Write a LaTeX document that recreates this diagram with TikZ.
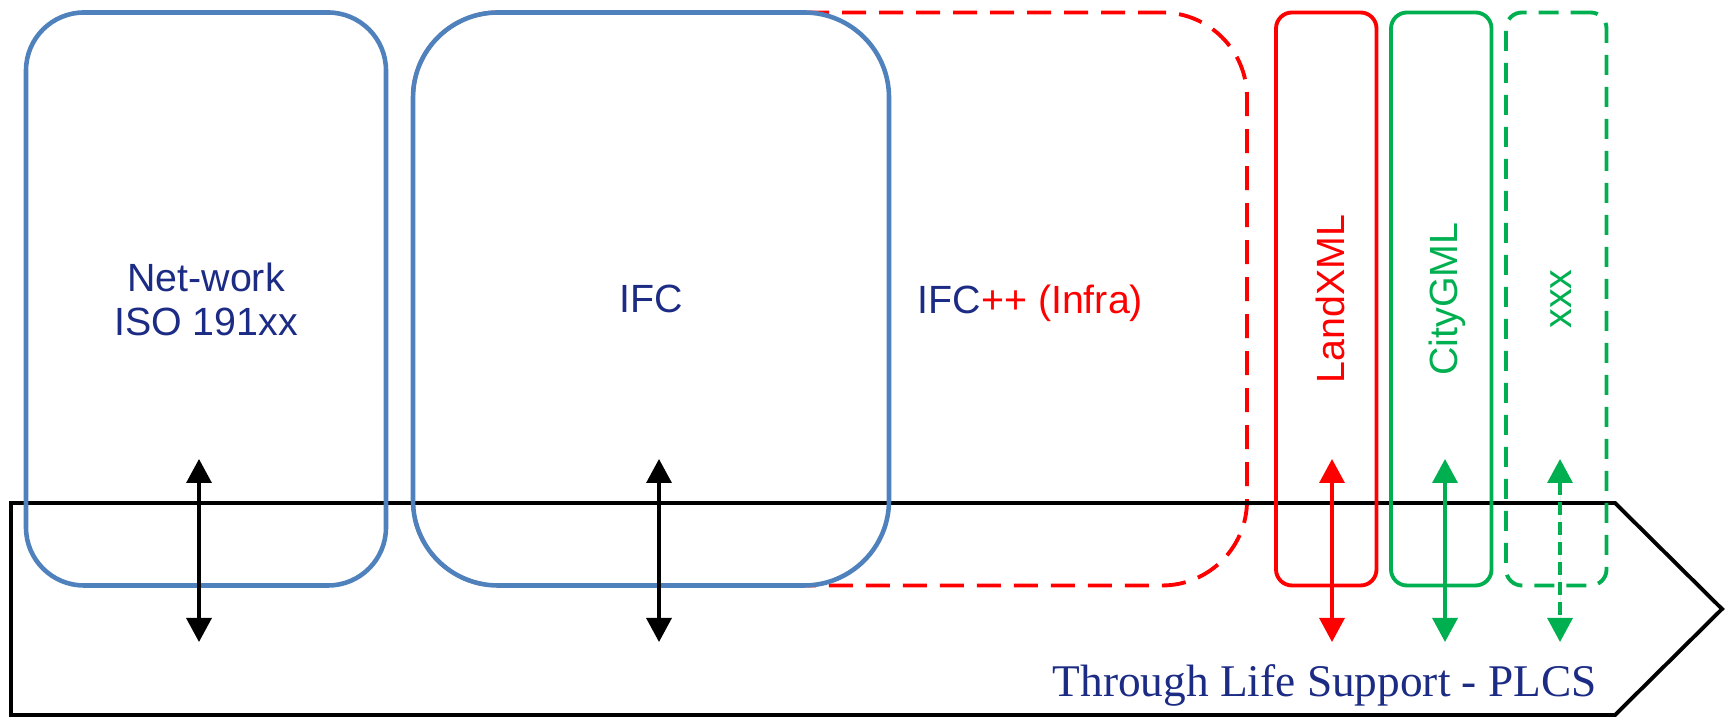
\documentclass[tikz,border=0pt]{standalone}
\usepackage{fontspec}
\setmainfont{Liberation Sans}
\newfontfamily\plcsfont{Liberation Serif}
\usepackage{tikz}
\usetikzlibrary{arrows.meta,positioning,backgrounds}
\definecolor{ink}{HTML}{1C2B84}
\definecolor{frame}{HTML}{4F81BD}
\definecolor{infra}{HTML}{FF0000}
\definecolor{city}{HTML}{00B050}
\tikzset{
  box/.style={rectangle, draw, line width=1.1pt, outer sep=0pt, inner sep=0pt,
              minimum height=57.3mm, align=center, text=ink,
              font=\fontsize{11.2}{12.5}\selectfont},
  stdbox/.style={box, draw=frame, line width=1.3pt},
  infrabox/.style={box, draw=infra, dash pattern=on 2.4mm off 1.3mm, rounded corners=8.5mm},
  thinbox/.style={box, minimum width=10.05mm, rounded corners=1.6mm},
  lbl/.style={inner sep=0pt, text depth=0pt, text=ink, font=\fontsize{11.2}{12.5}\selectfont},
  vlbl/.style={lbl, rotate=90},
  link/.style={{Triangle[length=2.4mm,width=2.5mm]}-{Triangle[length=2.4mm,width=2.5mm]}, line width=0.95pt},
  timeline/.style={draw=black, line width=1.1pt, line join=miter}
}

\begin{document}
\begin{tikzpicture}
  \useasboundingbox (0,0) rectangle (172.7mm,71.7mm);
  % through life support arrow
  \draw[timeline] (1.1mm,21.4mm) -- (161.5mm,21.4mm) -- (172.2mm,10.8mm)
    -- (161.5mm,0.2mm) -- (1.1mm,0.2mm) -- cycle;
  \node[anchor=base west, inner sep=0pt, text=ink, font=\plcsfont\fontsize{12.9}{15}\selectfont]
    (plcs) at (105.2mm,2.0mm) {Through Life Support - PLCS};

  % standards
  \node[stdbox, minimum width=36mm, rounded corners=5.8mm] (net) at (20.6mm,41.8mm) {Net-work\\ISO 191xx};
  \node[stdbox, minimum width=47.6mm, rounded corners=8.5mm, right=2.7mm of net] (ifc) {IFC};
  \begin{scope}[on background layer]
    \node[infrabox, minimum width=83.4mm, anchor=west] (infra) at (ifc.west) {};
  \end{scope}
  \node[lbl, right=2.8mm of ifc] (infralbl) {IFC\textcolor{infra}{++ (Infra)}};
  \node[thinbox, draw=infra, right=2.9mm of infra] (land) {};
  \node[thinbox, draw=city, right=1.45mm of land] (city) {};
  \node[thinbox, draw=city, dash pattern=on 2mm off 1.2mm, right=1.45mm of city] (xxx) {};
  \node[vlbl, text=infra] (landlbl) at ([xshift=0.4mm]land.center) {LandXML};
  \node[vlbl, text=city] (citylbl) at ([xshift=0.15mm]city.center) {CityGML};
  \node[vlbl, text=city] (xxxlbl) at ([xshift=0.5mm]xxx.center) {xxx};

  % exchange arrows
  \coordinate (net-up) at (19.9mm,25.8mm);
  \coordinate (net-dn) at (19.9mm,7.5mm);
  \coordinate (ifc-up) at (65.9mm,25.8mm);
  \coordinate (ifc-dn) at (65.9mm,7.5mm);
  \coordinate (land-up) at (133.2mm,25.8mm);
  \coordinate (land-dn) at (133.2mm,7.5mm);
  \coordinate (city-up) at (144.5mm,25.8mm);
  \coordinate (city-dn) at (144.5mm,7.5mm);
  \coordinate (xxx-up) at (156mm,25.8mm);
  \coordinate (xxx-dn) at (156mm,7.5mm);
  \draw[link] (net-up) -- (net-dn);
  \draw[link] (ifc-up) -- (ifc-dn);
  \draw[link, draw=infra, fill=infra] (land-up) -- (land-dn);
  \draw[link, draw=city, fill=city] (city-up) -- (city-dn);
  \draw[link, draw=city, fill=city, dash pattern=on 1.3mm off 0.7mm] (xxx-up) -- (xxx-dn);
\end{tikzpicture}
\end{document}
